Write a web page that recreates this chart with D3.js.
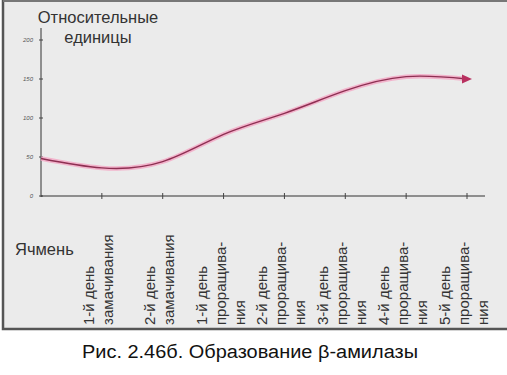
<!DOCTYPE html>
<html>
<head>
<meta charset="utf-8">
<script src="https://cdn.jsdelivr.net/npm/d3@7"></script>
<style>
  body { margin: 0; background: #fff; }
  text { font-family: "Liberation Sans", Arial, sans-serif; }
</style>
</head>
<body>
<script>
(function(){

    const svgWidth = 507,
        svgHeight = 375;

    // stages along the x axis, each label split into lines
    const stages = [
        ["Ячмень"],
        ["1-й день", "замачивания"],
        ["2-й день", "замачивания"],
        ["1-й день", "проращива-", "ния"],
        ["2-й день", "проращива-", "ния"],
        ["3-й день", "проращива-", "ния"],
        ["4-й день", "проращива-", "ния"],
        ["5-й день", "проращива-", "ния"]
    ];
    // relative units of beta-amylase
    const units = [48, 36, 44, 79, 106, 135, 153, 150];
    const yTicks = [0, 50, 100, 150, 200];

    const svg = d3.select("body")
        .append("svg")
        .attr("width", svgWidth)
        .attr("height", svgHeight);

    // scanned page panel
    svg.append("rect")
        .attr("x", 3).attr("y", 1)
        .attr("width", 504).attr("height", 328)
        .attr("fill", "#ebebeb");
    svg.append("path")
        .attr("d", "M3,0V329H507")
        .attr("fill", "none")
        .attr("stroke", "#555")
        .attr("stroke-width", 2.5);
    svg.append("line")
        .attr("x1", 3).attr("x2", 507).attr("y1", 1).attr("y2", 1)
        .attr("stroke", "#777").attr("stroke-width", 2);

    const x = d3.scalePoint()
        .domain(d3.range(stages.length))
        .range([41, 467]);

    const y = d3.scaleLinear()
        .domain([0, 200])
        .range([196, 40]);

    const g = svg.append("g");

    // y axis
    g.append("line")
        .attr("x1", 41).attr("x2", 41)
        .attr("y1", 28).attr("y2", 197)
        .attr("stroke", "#333").attr("stroke-width", 1);
    const yt = g.selectAll(".yt")
        .data(yTicks)
        .enter().append("g")
        .attr("transform", d => `translate(41,${y(d)})`);
    yt.append("line")
        .attr("x1", -2).attr("x2", 2)
        .attr("stroke", "#444");
    yt.append("text")
        .attr("x", -8).attr("dy", "0.35em")
        .attr("text-anchor", "end")
        .attr("font-size", 6)
        .attr("font-style", "italic")
        .attr("fill", "#555")
        .text(d => d);

    // x axis
    g.append("line")
        .attr("x1", 41).attr("x2", 485)
        .attr("y1", y(0)).attr("y2", y(0))
        .attr("stroke", "#333").attr("stroke-width", 1.2);
    g.selectAll(".xt")
        .data(d3.range(1, stages.length))
        .enter().append("line")
        .attr("x1", d => x(d)).attr("x2", d => x(d))
        .attr("y1", y(0) - 3).attr("y2", y(0) + 3)
        .attr("stroke", "#444");

    // title of y axis
    const title = g.append("text")
        .attr("text-anchor", "middle")
        .attr("font-size", 16.5)
        .attr("fill", "#333");
    title.append("tspan").attr("x", 98).attr("y", 23).text("Относительные");
    title.append("tspan").attr("x", 98).attr("y", 43).text("единицы");

    // x labels
    g.append("text")
        .attr("x", 15).attr("y", 255)
        .attr("font-size", 16.5)
        .attr("fill", "#333")
        .text(stages[0][0]);

    stages.slice(1).forEach(function(lines, i) {
        const cx = x(i + 1) - 3;
        const n = lines.length;
        const lab = g.append("text")
            .attr("transform", `translate(${cx},325) rotate(-90)`)
            .attr("font-size", 15)
            .attr("fill", "#333");
        lines.forEach(function(t, j) {
            lab.append("tspan")
                .attr("x", 0)
                .attr("y", (j - (n - 1) / 2) * 19 + 5)
                .text(t);
        });
    });

    // curve
    const line = d3.line()
        .x((d, i) => x(i))
        .y(d => y(d))
        .curve(d3.curveNatural);

    g.append("path")
        .datum(units)
        .attr("d", line)
        .attr("fill", "none")
        .attr("stroke", "#f4a6c4")
        .attr("stroke-width", 4.5)
        .attr("stroke-opacity", 0.8);
    g.append("path")
        .datum(units)
        .attr("d", line)
        .attr("fill", "none")
        .attr("stroke", "#8e2f52")
        .attr("stroke-width", 1.4);

    // arrow head
    const last = units.length - 1;
    g.append("path")
        .attr("d", `M${x(last) + 5},${y(units[last])} l-10,-4.5 v9 z`)
        .attr("fill", "#b8305f");

    // caption
    svg.append("text")
        .attr("x", 250).attr("y", 358)
        .attr("text-anchor", "middle")
        .attr("font-size", 18)
        .attr("textLength", 336)
        .attr("lengthAdjust", "spacingAndGlyphs")
        .attr("fill", "#111")
        .text("Рис. 2.46б. Образование β-амилазы");

})();
</script>
</body>
</html>
